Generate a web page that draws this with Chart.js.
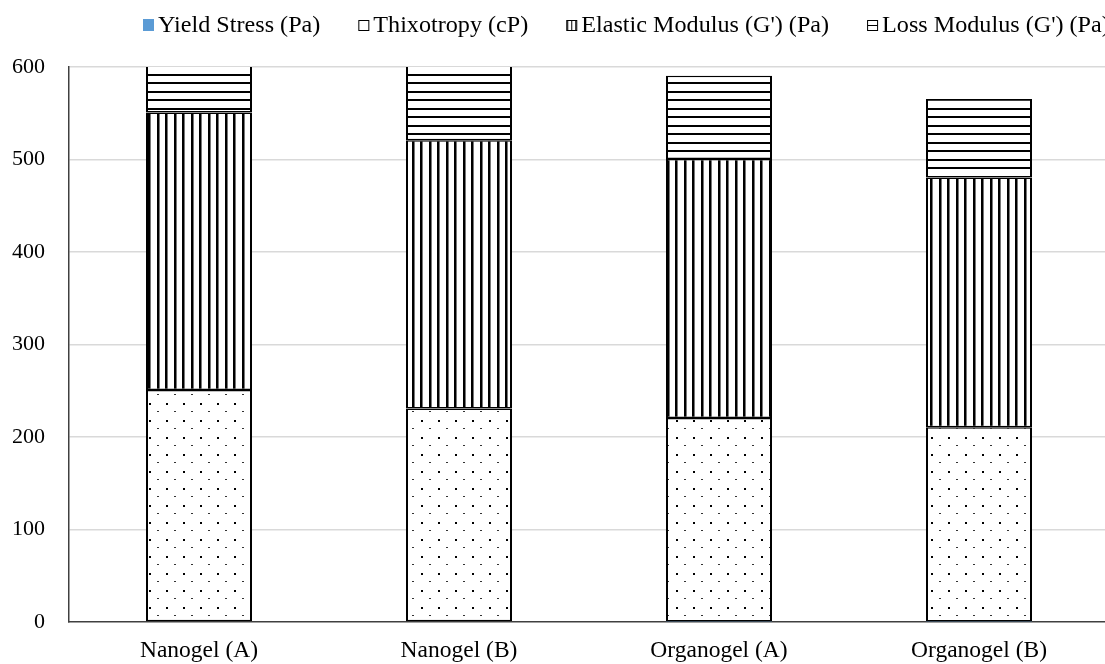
<!DOCTYPE html>
<html><head><meta charset="utf-8">
<script src="https://cdn.jsdelivr.net/npm/chart.js@4.4.1/dist/chart.umd.min.js"></script>
<style>
html,body{margin:0;padding:0;background:#fff;overflow:hidden;}
#wrap{position:relative;width:1125px;height:664px;}
</style></head><body>
<div id="wrap"><canvas id="c"></canvas></div>
<script>
const categories = ['Nanogel (A)', 'Nanogel (B)', 'Organogel (A)', 'Organogel (B)'];
const seriesNames = ['Yield Stress (Pa)', 'Thixotropy (cP)', "Elastic Modulus (G') (Pa)", "Loss Modulus (G') (Pa)"];
const yieldStress = [0.8, 0.7, 0.6, 0.5];
const thixotropy = [250, 230, 220, 210];
const elasticModulus = [300, 290, 280, 270];
const lossModulus = [100, 95, 90, 85];
const yTicks = [0, 100, 200, 300, 400, 500, 600];

const FONT = '"Liberation Serif", "Times New Roman", serif';
Chart.defaults.font.family = FONT;
Chart.defaults.color = '#000';

const canvas = document.getElementById('c');
const mainCtx = canvas.getContext('2d');
function makePattern(w, h, draw, tx, ty) {
  const c = document.createElement('canvas');
  c.width = w; c.height = h;
  const g = c.getContext('2d');
  g.fillStyle = '#fff'; g.fillRect(0, 0, w, h);
  g.fillStyle = '#000';
  draw(g);
  const p = mainCtx.createPattern(c, 'repeat');
  p.setTransform(new DOMMatrix().translate(tx, ty));
  return p;
}
const dotsPattern = makePattern(17, 17, g => {
  g.fillRect(0, 0, 2, 2);
  g.fillStyle = '#333';
  g.fillRect(8, 8, 2, 1);
}, 13, 12);
const vLinesPattern = makePattern(17, 1, g => {
  g.fillRect(0, 0, 2, 1);
  g.fillRect(8, 0, 2, 1);
  g.fillStyle = '#777';
  g.fillRect(2, 0, 1, 1);
  g.fillRect(10, 0, 1, 1);
}, 4, 0);
const hLinesPattern = makePattern(1, 17, g => {
  g.fillRect(0, 0, 1, 2);
  g.fillRect(0, 8, 1, 2);
}, 0, 6);

const fills = ['#5b9bd5', dotsPattern, vLinesPattern, hLinesPattern];
const seriesValues = [yieldStress, thixotropy, elasticModulus, lossModulus];

function drawIcon(ctx, i, x, top) {
  ctx.save();
  ctx.lineWidth = 1;
  ctx.strokeStyle = '#000';
  if (i === 0) {
    ctx.fillStyle = '#5b9bd5';
    ctx.fillRect(x, top, 11, 12);
  } else {
    ctx.fillStyle = '#fff';
    ctx.fillRect(x, top + 1, 11, 11);
    ctx.strokeRect(x + 0.5, top + 1.5, 10, 10);
    if (i === 2) {
      ctx.beginPath(); ctx.moveTo(x + 5.5, top + 1.5); ctx.lineTo(x + 5.5, top + 11.5); ctx.stroke();
      ctx.beginPath(); ctx.moveTo(x + 1.5, top + 1.5); ctx.lineTo(x + 1.5, top + 11.5); ctx.stroke();
      ctx.beginPath(); ctx.moveTo(x + 9.5, top + 1.5); ctx.lineTo(x + 9.5, top + 11.5); ctx.stroke();
    } else if (i === 3) {
      ctx.beginPath(); ctx.moveTo(x + 0.5, top + 6.5); ctx.lineTo(x + 10.5, top + 6.5); ctx.stroke();
    }
  }
  ctx.restore();
}

const customLegend = {
  id: 'customLegend',
  afterDraw(chart) {
    const ctx = chart.ctx;
    ctx.save();
    ctx.font = '23px ' + FONT;
    ctx.textBaseline = 'alphabetic';
    ctx.textAlign = 'left';
    const stretch = 1.05;
    let x = 143;
    chart.data.datasets.forEach((ds, i) => {
      drawIcon(ctx, i, x, 19);
      const tx = x + 15;
      ctx.save();
      ctx.translate(tx, 32);
      ctx.scale(stretch, 1);
      ctx.fillStyle = '#000';
      ctx.fillText(ds.label, 0, 0);
      ctx.restore();
      x = tx + ctx.measureText(ds.label).width * stretch + 38;
    });
    ctx.restore();
  }
};

const datasets = seriesNames.map((name, i) => ({
  label: name,
  data: seriesValues[i],
  backgroundColor: fills[i],
  borderColor: '#000',
  borderWidth: i === 0 ? 0 : { left: 2, right: 2, top: 1.5, bottom: 1.5 },
  borderSkipped: false,
  inflateAmount: 0,
  categoryPercentage: 1,
  barPercentage: 106 / 260,
  clip: 0
}));

new Chart(canvas, {
  type: 'bar',
  data: { labels: categories, datasets },
  options: {
    responsive: true,
    maintainAspectRatio: false,
    animation: false,
    layout: { padding: { top: 67, right: 16, left: 0, bottom: 0 } },
    plugins: { legend: { display: false }, tooltip: { enabled: false } },
    scales: {
      x: {
        stacked: true,
        grid: { display: false, drawTicks: false },
        border: { display: true, color: '#404040', width: 1.5 },
        ticks: { font: { size: 23.5 }, padding: 15, color: '#000', maxRotation: 0, autoSkip: false },
        afterFit(s) { s.height = 42; }
      },
      y: {
        stacked: true,
        min: 0,
        max: 600,
        afterBuildTicks(s) { s.ticks = yTicks.map(v => ({ value: v })); },
        ticks: { font: { size: 22 }, padding: 24, color: '#000' },
        grid: {
          drawTicks: false,
          lineWidth: 1.5,
          color: c => (c.tick && c.tick.value === 0) ? 'rgba(0,0,0,0)' : '#d9d9d9'
        },
        border: { display: true, color: '#404040', width: 1.5 },
        afterFit(s) { s.width = 69; }
      }
    }
  },
  plugins: [customLegend]
});
</script>
</body></html>
